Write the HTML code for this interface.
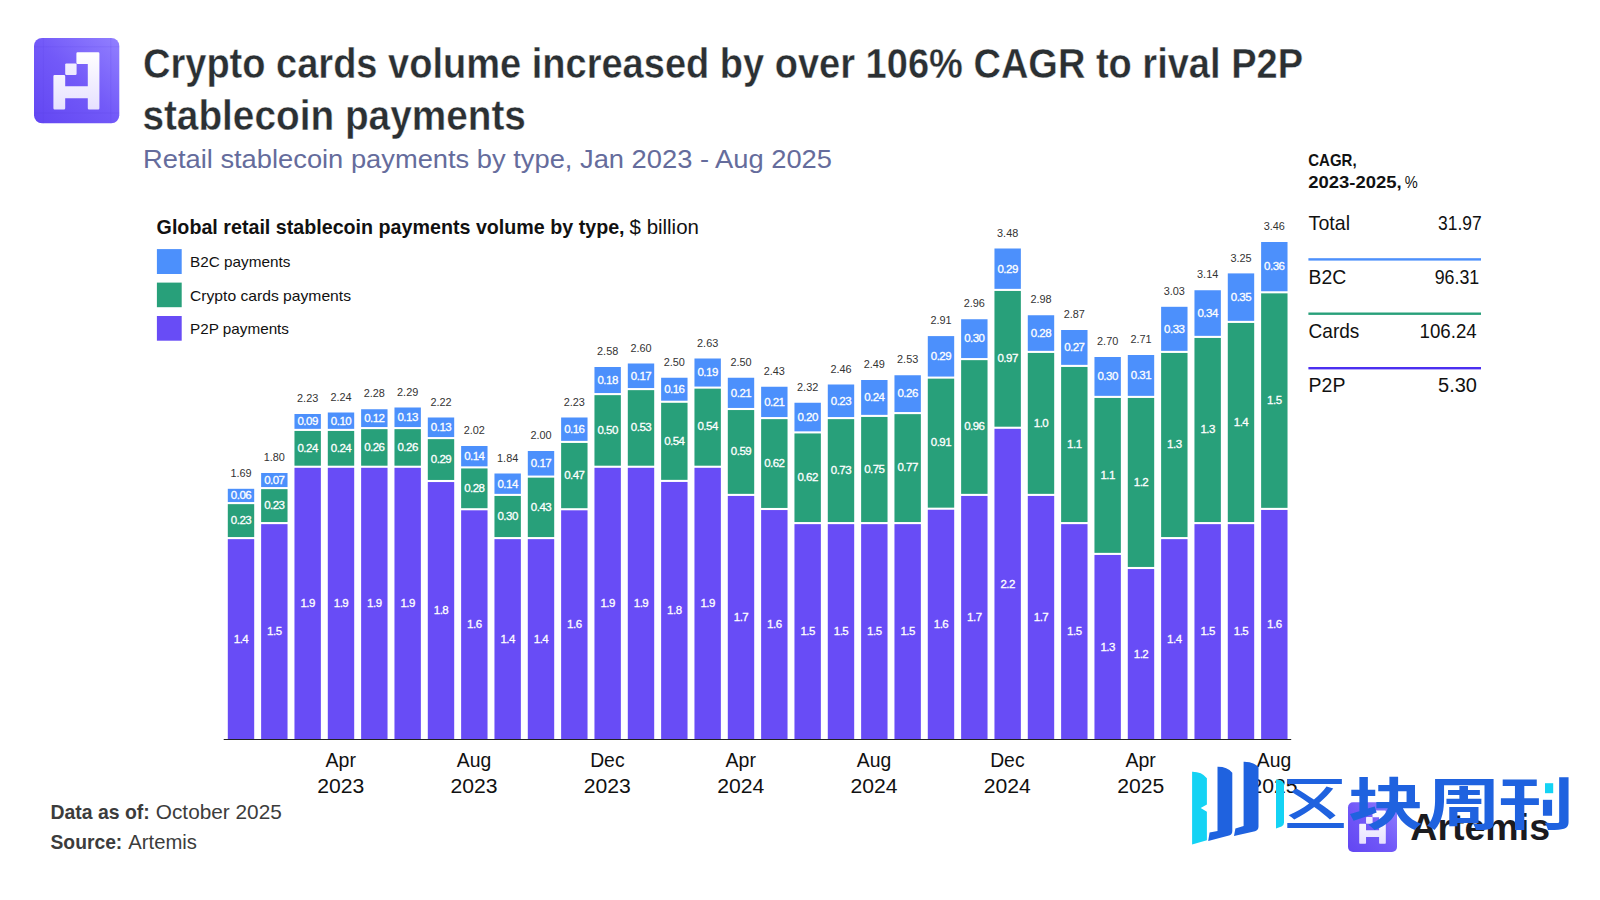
<!DOCTYPE html>
<html lang="en">
<head>
<meta charset="utf-8">
<title>Crypto cards volume increased by over 106% CAGR to rival P2P stablecoin payments</title>
<style>
html,body{margin:0;padding:0;background:#ffffff;}
body{width:1600px;height:900px;overflow:hidden;font-family:"Liberation Sans","Noto Sans CJK SC",sans-serif;}
svg{display:block;position:absolute;left:0;top:0;}
svg text{font-family:"Liberation Sans","Noto Sans CJK SC",sans-serif;}
</style>
</head>
<body>
<svg width="1600" height="900" viewBox="0 0 1600 900">
<defs>
<linearGradient id="lg" x1="1" y1="0" x2="0" y2="1">
<stop offset="0" stop-color="#9280ff"/>
<stop offset="0.5" stop-color="#7259f8"/>
<stop offset="1" stop-color="#6246f2"/>
</linearGradient>
<linearGradient id="wg" gradientUnits="userSpaceOnUse" x1="0" y1="52" x2="0" y2="110">
<stop offset="0" stop-color="#ffffff"/>
<stop offset="1" stop-color="#e6e0ff"/>
</linearGradient>
</defs>
<rect x="0" y="0" width="1600" height="900" fill="#ffffff"/>

<!-- LOGO -->
<g id="logo">
<rect x="34" y="38" width="85.3" height="85.3" rx="8" ry="8" fill="url(#lg)"/>
<g stroke="#5a40e0" stroke-opacity="0.28" stroke-width="0.6">
<line x1="43.4" y1="38" x2="43.4" y2="123.3"/><line x1="110.8" y1="38" x2="110.8" y2="123.3"/>
<line x1="34" y1="46.8" x2="119.3" y2="46.8"/><line x1="34" y1="113" x2="119.3" y2="113"/>
</g>
<g fill="url(#wg)">
<path d="M77.60 52.2 H98.2 a1.2 1.2 0 0 1 1.2 1.2 V108.3 a1.2 1.2 0 0 1 -1.2 1.2 H89.0 a1.2 1.2 0 0 1 -1.2 -1.2 V98.2 H65.2 V108.3 a1.2 1.2 0 0 1 -1.2 1.2 H54.6 a1.2 1.2 0 0 1 -1.2 -1.2 V76.3 a1.2 1.2 0 0 1 1.2 -1.2 H64.0 a1.2 1.2 0 0 1 1.2 1.2 V86.2 H87.8 V64 H77.60 a1.2 1.2 0 0 1 -1.2 -1.2 V53.40 a1.2 1.2 0 0 1 1.2 -1.2 Z"/>
<rect x="65.2" y="63.4" width="11.4" height="11.5" rx="1.2" fill-opacity="0.93"/>
</g>
</g>

<!-- TITLES -->
<g id="titles" stroke="#ffffff" stroke-width="0">
<text x="143" y="78" font-size="42.5" font-weight="bold" fill="#2b3033" stroke-width="0.4" textLength="1160" lengthAdjust="spacingAndGlyphs">Crypto cards volume increased by over 106% CAGR to rival P2P</text>
<text x="142.4" y="130" font-size="42.5" font-weight="bold" fill="#2b3033" stroke-width="0.4" textLength="383.5" lengthAdjust="spacingAndGlyphs">stablecoin payments</text>
<text x="143" y="167.9" font-size="26.5" fill="#656c9c" textLength="689" lengthAdjust="spacingAndGlyphs">Retail stablecoin payments by type, Jan 2023 - Aug 2025</text>
</g>

<!-- CHART TITLE + LEGEND -->
<g id="legend">
<text x="156.6" y="234.1" font-size="20.5" fill="#111111"><tspan font-weight="bold" textLength="468" lengthAdjust="spacingAndGlyphs">Global retail stablecoin payments volume by type,</tspan><tspan dx="5" textLength="69.3" lengthAdjust="spacingAndGlyphs">$ billion</tspan></text>
<rect x="156.9" y="249.1" width="24.8" height="24.9" fill="#4c90fc"/>
<rect x="156.9" y="282.6" width="24.8" height="24.6" fill="#28a07a"/>
<rect x="156.9" y="316" width="24.8" height="24.7" fill="#684cf6"/>
<text x="190" y="267.1" font-size="14.8" fill="#111111" textLength="100.4" lengthAdjust="spacingAndGlyphs">B2C payments</text>
<text x="190" y="300.5" font-size="14.8" fill="#111111" textLength="161" lengthAdjust="spacingAndGlyphs">Crypto cards payments</text>
<text x="190" y="333.9" font-size="14.8" fill="#111111" textLength="99" lengthAdjust="spacingAndGlyphs">P2P payments</text>
</g>

<!-- CAGR TABLE -->
<g id="cagr" fill="#111111">
<text x="1308.3" y="166.4" font-size="17" font-weight="bold" textLength="48.3" lengthAdjust="spacingAndGlyphs">CAGR,</text>
<text x="1308.3" y="188.1" font-size="17"><tspan font-weight="bold" textLength="93.4" lengthAdjust="spacingAndGlyphs">2023-2025,</tspan><tspan dx="3" textLength="13" lengthAdjust="spacingAndGlyphs">%</tspan></text>
<g font-size="20.3">
<text x="1308.6" y="229.8" textLength="41.4" lengthAdjust="spacingAndGlyphs">Total</text>
<text x="1438.1" y="229.8" textLength="43.6" lengthAdjust="spacingAndGlyphs">31.97</text>
<text x="1308.6" y="284" textLength="37.7" lengthAdjust="spacingAndGlyphs">B2C</text>
<text x="1434.7" y="284" textLength="44.5" lengthAdjust="spacingAndGlyphs">96.31</text>
<text x="1308.6" y="338.3" textLength="50.8" lengthAdjust="spacingAndGlyphs">Cards</text>
<text x="1419.5" y="338.3" textLength="57.2" lengthAdjust="spacingAndGlyphs">106.24</text>
<text x="1308.6" y="392" textLength="36.8" lengthAdjust="spacingAndGlyphs">P2P</text>
<text x="1438.1" y="392" textLength="38.9" lengthAdjust="spacingAndGlyphs">5.30</text>
</g>
<rect x="1308.4" y="258.2" width="172.6" height="2.4" fill="#4c90fc"/>
<rect x="1308.4" y="312.5" width="172.6" height="2.4" fill="#28a07a"/>
<rect x="1308.4" y="367" width="172.6" height="2.4" fill="#4b2ff0"/>
</g>

<!-- CHART -->
<g id="bars">
<rect x="227.80" y="488.80" width="26.4" height="13.25" fill="#4c90fc"/>
<rect x="227.80" y="504.15" width="26.4" height="32.90" fill="#28a07a"/>
<rect x="227.80" y="539.15" width="26.4" height="199.85" fill="#684cf6"/>
<rect x="261.13" y="473.00" width="26.4" height="14.05" fill="#4c90fc"/>
<rect x="261.13" y="489.15" width="26.4" height="32.90" fill="#28a07a"/>
<rect x="261.13" y="524.15" width="26.4" height="214.85" fill="#684cf6"/>
<rect x="294.47" y="414.00" width="26.4" height="14.85" fill="#4c90fc"/>
<rect x="294.47" y="430.95" width="26.4" height="34.75" fill="#28a07a"/>
<rect x="294.47" y="467.80" width="26.4" height="271.20" fill="#684cf6"/>
<rect x="327.80" y="412.50" width="26.4" height="16.35" fill="#4c90fc"/>
<rect x="327.80" y="430.95" width="26.4" height="34.75" fill="#28a07a"/>
<rect x="327.80" y="467.80" width="26.4" height="271.20" fill="#684cf6"/>
<rect x="361.13" y="409.25" width="26.4" height="17.80" fill="#4c90fc"/>
<rect x="361.13" y="429.15" width="26.4" height="36.55" fill="#28a07a"/>
<rect x="361.13" y="467.80" width="26.4" height="271.20" fill="#684cf6"/>
<rect x="394.47" y="407.50" width="26.4" height="19.55" fill="#4c90fc"/>
<rect x="394.47" y="429.15" width="26.4" height="36.55" fill="#28a07a"/>
<rect x="394.47" y="467.80" width="26.4" height="271.20" fill="#684cf6"/>
<rect x="427.80" y="417.50" width="26.4" height="19.55" fill="#4c90fc"/>
<rect x="427.80" y="439.15" width="26.4" height="40.80" fill="#28a07a"/>
<rect x="427.80" y="482.05" width="26.4" height="256.95" fill="#684cf6"/>
<rect x="461.13" y="446.00" width="26.4" height="20.35" fill="#4c90fc"/>
<rect x="461.13" y="468.45" width="26.4" height="39.75" fill="#28a07a"/>
<rect x="461.13" y="510.30" width="26.4" height="228.70" fill="#684cf6"/>
<rect x="494.46" y="473.50" width="26.4" height="20.35" fill="#4c90fc"/>
<rect x="494.46" y="495.95" width="26.4" height="41.10" fill="#28a07a"/>
<rect x="494.46" y="539.15" width="26.4" height="199.85" fill="#684cf6"/>
<rect x="527.80" y="451.00" width="26.4" height="24.55" fill="#4c90fc"/>
<rect x="527.80" y="477.65" width="26.4" height="59.40" fill="#28a07a"/>
<rect x="527.80" y="539.15" width="26.4" height="199.85" fill="#684cf6"/>
<rect x="561.13" y="417.50" width="26.4" height="23.35" fill="#4c90fc"/>
<rect x="561.13" y="442.95" width="26.4" height="65.25" fill="#28a07a"/>
<rect x="561.13" y="510.30" width="26.4" height="228.70" fill="#684cf6"/>
<rect x="594.46" y="367.00" width="26.4" height="26.05" fill="#4c90fc"/>
<rect x="594.46" y="395.15" width="26.4" height="70.55" fill="#28a07a"/>
<rect x="594.46" y="467.80" width="26.4" height="271.20" fill="#684cf6"/>
<rect x="627.80" y="363.50" width="26.4" height="24.55" fill="#4c90fc"/>
<rect x="627.80" y="390.15" width="26.4" height="75.55" fill="#28a07a"/>
<rect x="627.80" y="467.80" width="26.4" height="271.20" fill="#684cf6"/>
<rect x="661.13" y="377.75" width="26.4" height="22.95" fill="#4c90fc"/>
<rect x="661.13" y="402.80" width="26.4" height="77.05" fill="#28a07a"/>
<rect x="661.13" y="481.95" width="26.4" height="257.05" fill="#684cf6"/>
<rect x="694.46" y="358.50" width="26.4" height="28.05" fill="#4c90fc"/>
<rect x="694.46" y="388.65" width="26.4" height="77.05" fill="#28a07a"/>
<rect x="694.46" y="467.80" width="26.4" height="271.20" fill="#684cf6"/>
<rect x="727.80" y="377.75" width="26.4" height="30.20" fill="#4c90fc"/>
<rect x="727.80" y="410.05" width="26.4" height="83.80" fill="#28a07a"/>
<rect x="727.80" y="495.95" width="26.4" height="243.05" fill="#684cf6"/>
<rect x="761.13" y="386.75" width="26.4" height="30.30" fill="#4c90fc"/>
<rect x="761.13" y="419.15" width="26.4" height="88.80" fill="#28a07a"/>
<rect x="761.13" y="510.05" width="26.4" height="228.95" fill="#684cf6"/>
<rect x="794.46" y="402.75" width="26.4" height="28.60" fill="#4c90fc"/>
<rect x="794.46" y="433.45" width="26.4" height="88.60" fill="#28a07a"/>
<rect x="794.46" y="524.15" width="26.4" height="214.85" fill="#684cf6"/>
<rect x="827.79" y="384.50" width="26.4" height="32.55" fill="#4c90fc"/>
<rect x="827.79" y="419.15" width="26.4" height="102.90" fill="#28a07a"/>
<rect x="827.79" y="524.15" width="26.4" height="214.85" fill="#684cf6"/>
<rect x="861.13" y="380.00" width="26.4" height="34.85" fill="#4c90fc"/>
<rect x="861.13" y="416.95" width="26.4" height="105.10" fill="#28a07a"/>
<rect x="861.13" y="524.15" width="26.4" height="214.85" fill="#684cf6"/>
<rect x="894.46" y="375.25" width="26.4" height="36.80" fill="#4c90fc"/>
<rect x="894.46" y="414.15" width="26.4" height="107.90" fill="#28a07a"/>
<rect x="894.46" y="524.15" width="26.4" height="214.85" fill="#684cf6"/>
<rect x="927.79" y="336.10" width="26.4" height="40.45" fill="#4c90fc"/>
<rect x="927.79" y="378.65" width="26.4" height="129.00" fill="#28a07a"/>
<rect x="927.79" y="509.75" width="26.4" height="229.25" fill="#684cf6"/>
<rect x="961.13" y="319.25" width="26.4" height="38.80" fill="#4c90fc"/>
<rect x="961.13" y="360.15" width="26.4" height="133.70" fill="#28a07a"/>
<rect x="961.13" y="495.95" width="26.4" height="243.05" fill="#684cf6"/>
<rect x="994.46" y="248.50" width="26.4" height="40.35" fill="#4c90fc"/>
<rect x="994.46" y="290.95" width="26.4" height="135.75" fill="#28a07a"/>
<rect x="994.46" y="428.80" width="26.4" height="310.20" fill="#684cf6"/>
<rect x="1027.79" y="315.25" width="26.4" height="35.60" fill="#4c90fc"/>
<rect x="1027.79" y="352.95" width="26.4" height="140.90" fill="#28a07a"/>
<rect x="1027.79" y="495.95" width="26.4" height="243.05" fill="#684cf6"/>
<rect x="1061.12" y="330.00" width="26.4" height="34.85" fill="#4c90fc"/>
<rect x="1061.12" y="366.95" width="26.4" height="155.10" fill="#28a07a"/>
<rect x="1061.12" y="524.15" width="26.4" height="214.85" fill="#684cf6"/>
<rect x="1094.46" y="357.00" width="26.4" height="38.85" fill="#4c90fc"/>
<rect x="1094.46" y="397.95" width="26.4" height="154.90" fill="#28a07a"/>
<rect x="1094.46" y="554.95" width="26.4" height="184.05" fill="#684cf6"/>
<rect x="1127.79" y="355.00" width="26.4" height="40.85" fill="#4c90fc"/>
<rect x="1127.79" y="397.95" width="26.4" height="169.00" fill="#28a07a"/>
<rect x="1127.79" y="569.05" width="26.4" height="169.95" fill="#684cf6"/>
<rect x="1161.12" y="306.80" width="26.4" height="44.05" fill="#4c90fc"/>
<rect x="1161.12" y="352.95" width="26.4" height="184.10" fill="#28a07a"/>
<rect x="1161.12" y="539.15" width="26.4" height="199.85" fill="#684cf6"/>
<rect x="1194.46" y="290.25" width="26.4" height="45.60" fill="#4c90fc"/>
<rect x="1194.46" y="337.95" width="26.4" height="184.10" fill="#28a07a"/>
<rect x="1194.46" y="524.15" width="26.4" height="214.85" fill="#684cf6"/>
<rect x="1227.79" y="273.40" width="26.4" height="47.45" fill="#4c90fc"/>
<rect x="1227.79" y="322.95" width="26.4" height="199.10" fill="#28a07a"/>
<rect x="1227.79" y="524.15" width="26.4" height="214.85" fill="#684cf6"/>
<rect x="1261.12" y="242.00" width="26.4" height="49.25" fill="#4c90fc"/>
<rect x="1261.12" y="293.35" width="26.4" height="214.50" fill="#28a07a"/>
<rect x="1261.12" y="509.95" width="26.4" height="229.05" fill="#684cf6"/>
</g>
<g id="seglabels" font-size="11.5" letter-spacing="-0.5" fill="#ffffff" text-anchor="middle" stroke="#ffffff" stroke-width="0.3">
<text x="241.00" y="499.25">0.06</text>
<text x="241.00" y="523.90">0.23</text>
<text x="241.00" y="642.85">1.4</text>
<text x="274.33" y="483.85">0.07</text>
<text x="274.33" y="508.90">0.23</text>
<text x="274.33" y="635.35">1.5</text>
<text x="307.67" y="425.25">0.09</text>
<text x="307.67" y="451.62">0.24</text>
<text x="307.67" y="607.17">1.9</text>
<text x="341.00" y="424.50">0.10</text>
<text x="341.00" y="451.62">0.24</text>
<text x="341.00" y="607.17">1.9</text>
<text x="374.33" y="421.98">0.12</text>
<text x="374.33" y="450.73">0.26</text>
<text x="374.33" y="607.17">1.9</text>
<text x="407.67" y="421.10">0.13</text>
<text x="407.67" y="450.73">0.26</text>
<text x="407.67" y="607.17">1.9</text>
<text x="441.00" y="431.10">0.13</text>
<text x="441.00" y="462.85">0.29</text>
<text x="441.00" y="614.30">1.8</text>
<text x="474.33" y="460.00">0.14</text>
<text x="474.33" y="491.62">0.28</text>
<text x="474.33" y="628.42">1.6</text>
<text x="507.66" y="487.50">0.14</text>
<text x="507.66" y="519.80">0.30</text>
<text x="507.66" y="642.85">1.4</text>
<text x="541.00" y="467.10">0.17</text>
<text x="541.00" y="510.65">0.43</text>
<text x="541.00" y="642.85">1.4</text>
<text x="574.33" y="433.00">0.16</text>
<text x="574.33" y="478.88">0.47</text>
<text x="574.33" y="628.42">1.6</text>
<text x="607.66" y="383.85">0.18</text>
<text x="607.66" y="433.73">0.50</text>
<text x="607.66" y="607.17">1.9</text>
<text x="641.00" y="379.60">0.17</text>
<text x="641.00" y="431.23">0.53</text>
<text x="641.00" y="607.17">1.9</text>
<text x="674.33" y="393.05">0.16</text>
<text x="674.33" y="444.62">0.54</text>
<text x="674.33" y="614.25">1.8</text>
<text x="707.66" y="376.35">0.19</text>
<text x="707.66" y="430.48">0.54</text>
<text x="707.66" y="607.17">1.9</text>
<text x="741.00" y="396.68">0.21</text>
<text x="741.00" y="455.25">0.59</text>
<text x="741.00" y="621.25">1.7</text>
<text x="774.33" y="405.73">0.21</text>
<text x="774.33" y="466.85">0.62</text>
<text x="774.33" y="628.30">1.6</text>
<text x="807.66" y="420.88">0.20</text>
<text x="807.66" y="481.05">0.62</text>
<text x="807.66" y="635.35">1.5</text>
<text x="840.99" y="404.60">0.23</text>
<text x="840.99" y="473.90">0.73</text>
<text x="840.99" y="635.35">1.5</text>
<text x="874.33" y="401.25">0.24</text>
<text x="874.33" y="472.80">0.75</text>
<text x="874.33" y="635.35">1.5</text>
<text x="907.66" y="397.48">0.26</text>
<text x="907.66" y="471.40">0.77</text>
<text x="907.66" y="635.35">1.5</text>
<text x="940.99" y="360.15">0.29</text>
<text x="940.99" y="446.45">0.91</text>
<text x="940.99" y="628.15">1.6</text>
<text x="974.33" y="342.48">0.30</text>
<text x="974.33" y="430.30">0.96</text>
<text x="974.33" y="621.25">1.7</text>
<text x="1007.66" y="272.50">0.29</text>
<text x="1007.66" y="362.12">0.97</text>
<text x="1007.66" y="587.67">2.2</text>
<text x="1040.99" y="336.88">0.28</text>
<text x="1040.99" y="426.70">1.0</text>
<text x="1040.99" y="621.25">1.7</text>
<text x="1074.33" y="351.25">0.27</text>
<text x="1074.33" y="447.80">1.1</text>
<text x="1074.33" y="635.35">1.5</text>
<text x="1107.66" y="380.25">0.30</text>
<text x="1107.66" y="478.70">1.1</text>
<text x="1107.66" y="650.75">1.3</text>
<text x="1140.99" y="379.25">0.31</text>
<text x="1140.99" y="485.75">1.2</text>
<text x="1140.99" y="657.80">1.2</text>
<text x="1174.32" y="332.65">0.33</text>
<text x="1174.32" y="448.30">1.3</text>
<text x="1174.32" y="642.85">1.4</text>
<text x="1207.66" y="316.88">0.34</text>
<text x="1207.66" y="433.30">1.3</text>
<text x="1207.66" y="635.35">1.5</text>
<text x="1240.99" y="300.95">0.35</text>
<text x="1240.99" y="425.80">1.4</text>
<text x="1240.99" y="635.35">1.5</text>
<text x="1274.32" y="270.45">0.36</text>
<text x="1274.32" y="403.90">1.5</text>
<text x="1274.32" y="628.25">1.6</text>
</g>
<g id="totals" font-size="10.9" fill="#333333" text-anchor="middle">
<text x="241.00" y="477.00">1.69</text>
<text x="274.33" y="461.20">1.80</text>
<text x="307.67" y="402.20">2.23</text>
<text x="341.00" y="400.70">2.24</text>
<text x="374.33" y="397.45">2.28</text>
<text x="407.67" y="395.70">2.29</text>
<text x="441.00" y="405.70">2.22</text>
<text x="474.33" y="434.20">2.02</text>
<text x="507.66" y="461.70">1.84</text>
<text x="541.00" y="439.20">2.00</text>
<text x="574.33" y="405.70">2.23</text>
<text x="607.66" y="355.20">2.58</text>
<text x="641.00" y="351.70">2.60</text>
<text x="674.33" y="365.95">2.50</text>
<text x="707.66" y="346.70">2.63</text>
<text x="741.00" y="365.95">2.50</text>
<text x="774.33" y="374.95">2.43</text>
<text x="807.66" y="390.95">2.32</text>
<text x="840.99" y="372.70">2.46</text>
<text x="874.33" y="368.20">2.49</text>
<text x="907.66" y="363.45">2.53</text>
<text x="940.99" y="324.30">2.91</text>
<text x="974.33" y="307.45">2.96</text>
<text x="1007.66" y="236.70">3.48</text>
<text x="1040.99" y="303.45">2.98</text>
<text x="1074.33" y="318.20">2.87</text>
<text x="1107.66" y="345.20">2.70</text>
<text x="1140.99" y="343.20">2.71</text>
<text x="1174.32" y="295.00">3.03</text>
<text x="1207.66" y="278.45">3.14</text>
<text x="1240.99" y="261.60">3.25</text>
<text x="1274.32" y="230.20">3.46</text>
</g>
<g id="xaxis" font-size="19" fill="#111111">
<text x="325.50" y="766.9" font-size="19.3" textLength="30.4" lengthAdjust="spacingAndGlyphs">Apr</text>
<text x="317.20" y="793.1" font-size="20" textLength="47" lengthAdjust="spacingAndGlyphs">2023</text>
<text x="456.83" y="766.9" font-size="19.3" textLength="34.4" lengthAdjust="spacingAndGlyphs">Aug</text>
<text x="450.53" y="793.1" font-size="20" textLength="47" lengthAdjust="spacingAndGlyphs">2023</text>
<text x="590.16" y="766.9" font-size="19.3" textLength="34.4" lengthAdjust="spacingAndGlyphs">Dec</text>
<text x="583.86" y="793.1" font-size="20" textLength="47" lengthAdjust="spacingAndGlyphs">2023</text>
<text x="725.50" y="766.9" font-size="19.3" textLength="30.4" lengthAdjust="spacingAndGlyphs">Apr</text>
<text x="717.20" y="793.1" font-size="20" textLength="47" lengthAdjust="spacingAndGlyphs">2024</text>
<text x="856.83" y="766.9" font-size="19.3" textLength="34.4" lengthAdjust="spacingAndGlyphs">Aug</text>
<text x="850.53" y="793.1" font-size="20" textLength="47" lengthAdjust="spacingAndGlyphs">2024</text>
<text x="990.16" y="766.9" font-size="19.3" textLength="34.4" lengthAdjust="spacingAndGlyphs">Dec</text>
<text x="983.86" y="793.1" font-size="20" textLength="47" lengthAdjust="spacingAndGlyphs">2024</text>
<text x="1125.49" y="766.9" font-size="19.3" textLength="30.4" lengthAdjust="spacingAndGlyphs">Apr</text>
<text x="1117.19" y="793.1" font-size="20" textLength="47" lengthAdjust="spacingAndGlyphs">2025</text>
<text x="1256.82" y="766.9" font-size="19.3" textLength="34.4" lengthAdjust="spacingAndGlyphs">Aug</text>
<text x="1250.52" y="793.1" font-size="20" textLength="47" lengthAdjust="spacingAndGlyphs">2025</text>
</g>
<rect x="223.7" y="739" width="1067.5" height="1" fill="#222222"/>

<!-- FOOTER -->
<g id="footer" font-size="19.8" fill="#3c3c3c">
<text x="50.5" y="818.9"><tspan font-weight="bold" textLength="99.3" lengthAdjust="spacingAndGlyphs">Data as of:</tspan><tspan dx="6" textLength="126" lengthAdjust="spacingAndGlyphs">October 2025</tspan></text>
<text x="50.5" y="848.8"><tspan font-weight="bold" textLength="71.8" lengthAdjust="spacingAndGlyphs">Source:</tspan><tspan dx="6" textLength="68.7" lengthAdjust="spacingAndGlyphs">Artemis</tspan></text>
</g>

<!-- ARTEMIS BRAND (bottom right) -->
<g id="brand">
<rect x="1348" y="802.3" width="49" height="49.7" rx="5" ry="5" fill="url(#lg)"/>
<g fill="url(#wg)" transform="translate(1348 802.3) scale(0.578) translate(-34 -38)">
<path d="M77.60 52.2 H98.2 a1.2 1.2 0 0 1 1.2 1.2 V108.3 a1.2 1.2 0 0 1 -1.2 1.2 H89.0 a1.2 1.2 0 0 1 -1.2 -1.2 V98.2 H65.2 V108.3 a1.2 1.2 0 0 1 -1.2 1.2 H54.6 a1.2 1.2 0 0 1 -1.2 -1.2 V76.3 a1.2 1.2 0 0 1 1.2 -1.2 H64.0 a1.2 1.2 0 0 1 1.2 1.2 V86.2 H87.8 V64 H77.60 a1.2 1.2 0 0 1 -1.2 -1.2 V53.40 a1.2 1.2 0 0 1 1.2 -1.2 Z"/>
<rect x="65.2" y="63.4" width="11.4" height="11.5" rx="1.2" fill-opacity="0.93"/>
</g>
<text x="1410.3" y="840.2" font-size="37" font-weight="bold" fill="#1b1b1f" textLength="139.7" lengthAdjust="spacingAndGlyphs">Artemis</text>
</g>

<!-- WATERMARK -->
<g id="watermark">
<clipPath id="wmclip"><rect x="1287.3" y="740" width="312.7" height="160"/></clipPath>
<path fill="#14d3f4" d="M1192.1 771.8 Q1201.5 771.6 1206.9 778.2 V804.4 L1200.7 807.9 L1206.9 811.7 V840.2 L1192.1 844.4 Z"/>
<path fill="#1f62df" d="M1217.5 766.8 Q1227 766.6 1232.3 772.7 V831 Q1232.3 834.6 1229 835.6 L1208.2 840.9 L1209.6 832.6 L1217.5 831 Z"/>
<path fill="#1f62df" d="M1243.6 761.7 Q1253 761.5 1258.5 767.2 V826.5 Q1258.5 830.3 1255 831.2 L1234 836.1 L1235.4 828.5 L1243.6 826 Z"/>
<path fill="#14d3f4" d="M1276 779.5 Q1282 779.5 1284 783.5 V822.5 Q1284 825.5 1281.5 826.5 L1276 828.5 Z"/>
<g clip-path="url(#wmclip)">
<text transform="translate(0 823.8) scale(1.36 1)" x="935.2 991.2 1048.2 1101.8" y="0" font-size="55.5" font-weight="700" fill="#1f62df" style="font-family:'Liberation Sans','Noto Sans CJK SC',sans-serif"><tspan font-weight="500">区</tspan>块周刊</text>
</g>
<rect x="1541.5" y="776" width="13.5" height="23.8" fill="#ffffff"/>
<rect x="1545" y="783.2" width="8.2" height="10" fill="#14d3f4"/>
</g>

</svg>
</body>
</html>
